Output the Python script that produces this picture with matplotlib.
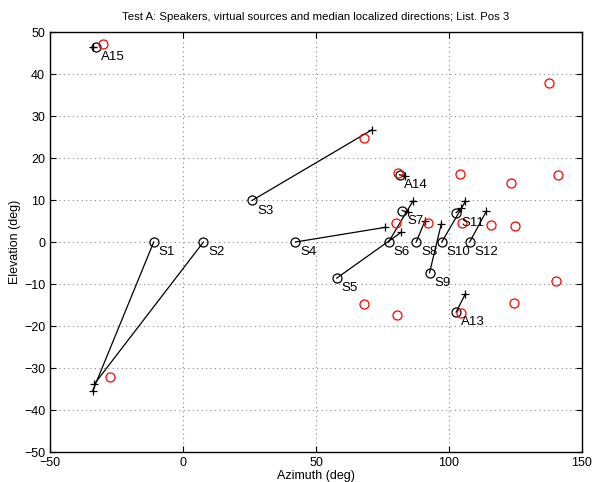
import matplotlib
matplotlib.use("Agg")
import matplotlib.pyplot as plt

# speakers / virtual sources (black circles)
names = ["S1", "S2", "S3", "S4", "S5", "S6", "S7", "S8", "S9", "S10",
         "S11", "S12", "A13", "A14", "A15"]
src_az = [-11.0, 7.7, 26.0, 42.3, 57.8, 77.3, 82.4, 87.7, 92.7, 97.3,
          102.7, 107.8, 102.7, 81.4, -32.6]
src_el = [0.0, 0.0, 9.9, 0.0, -8.6, 0.0, 7.5, 0.0, -7.3, 0.0,
          7.0, 0.0, -16.7, 16.0, 46.5]

# median localized directions (+)
loc_az = [-33.9, -33.3, 71.0, 76.1, 82.0, 86.4, 84.7, 91.0, 97.1, 106.2,
          104.6, 114.1, 106.2, 83.3, -33.9]
loc_el = [-35.4, -33.8, 26.7, 3.5, 2.3, 9.7, 7.1, 5.1, 4.3, 9.7,
          8.0, 7.4, -12.3, 15.8, 46.5]

# red circles
red_az = [-29.9, 68.0, 80.8, 104.0, 123.4, 140.9, 137.5, 80.2, 92.3, 104.8,
          115.9, 124.9, 140.3, 124.6, 104.6, 80.4, 68.2, -27.3]
red_el = [47.2, 24.7, 16.5, 16.2, 14.0, 16.0, 37.8, 4.5, 4.6, 4.5,
          4.1, 3.7, -9.2, -14.5, -17.0, -17.3, -14.7, -32.2]

plt.rcParams['font.family'] = ['Liberation Sans', 'DejaVu Sans']

fig = plt.figure(figsize=(5.93, 4.82), dpi=100)
ax = fig.add_axes([0.0843, 0.0622, 0.8971, 0.8714])

for i in range(len(names)):
    ax.plot([src_az[i], loc_az[i]], [src_el[i], loc_el[i]], 'k-', lw=0.9)
ax.plot(src_az, src_el, 'ko', mfc='none', ms=6.5, mew=0.9)
ax.plot(loc_az, loc_el, 'k+', ms=5.5, mew=0.9)
ax.plot(red_az, red_el, 'o', color='red', mfc='none', ms=6.5, mew=0.9)

for i, n in enumerate(names):
    ax.annotate(n, (src_az[i], src_el[i]), xytext=(3.5, -3),
                textcoords='offset points', ha='left', va='top', fontsize=9.5)

ax.set_xlim(-50, 150)
ax.set_ylim(-50, 50)
ax.set_xticks(range(-50, 151, 50))
ax.set_yticks(range(-50, 51, 10))
ax.grid(True, linestyle=(0, (1, 3)), color='#888888', lw=0.8)
ax.tick_params(direction='in', top=True, right=True, labelsize=9, length=4)
for s in ax.spines.values():
    s.set_linewidth(1.0)
ax.set_xlabel("Azimuth (deg)", fontsize=9, labelpad=1)
ax.set_ylabel("Elevation (deg)", fontsize=9, labelpad=2)
ax.set_title("Test A: Speakers, virtual sources and median localized directions; List. Pos 3",
             fontsize=8.2, pad=9)

fig.savefig("out.png", dpi=100)
